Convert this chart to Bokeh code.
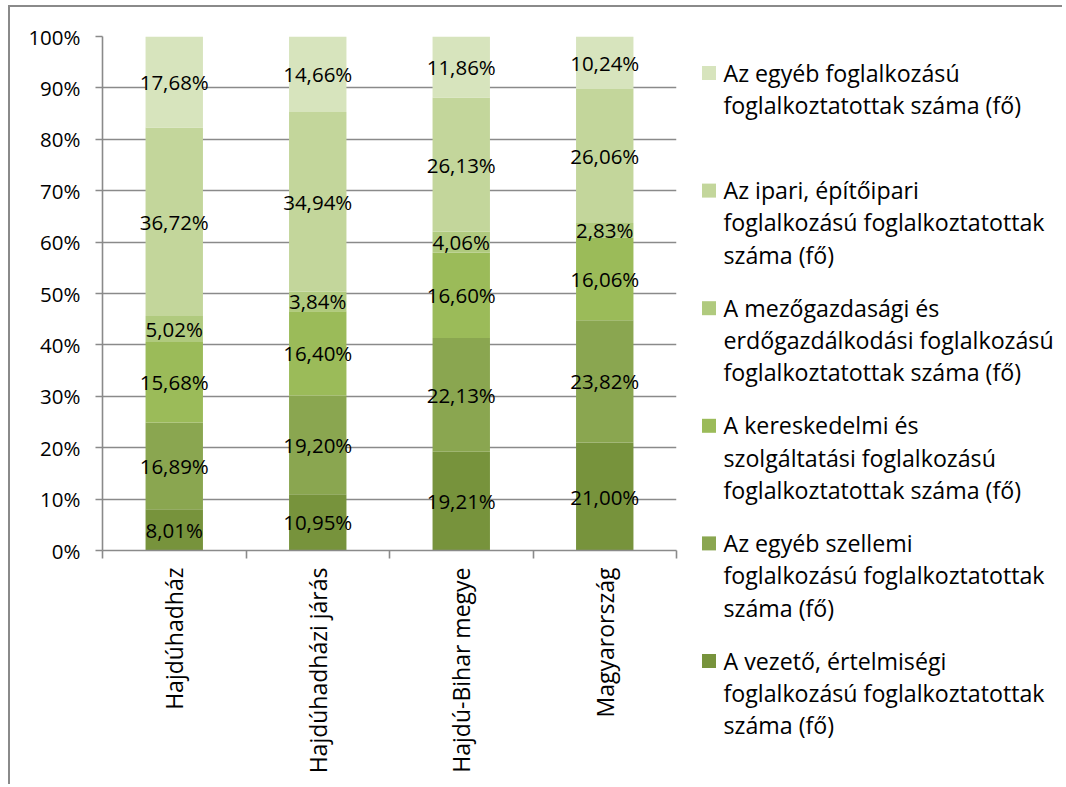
import math
from bokeh.plotting import figure
from bokeh.models import (Range1d, FixedTicker, LinearAxis, NumeralTickFormatter,
                          ColumnDataSource, CustomLabelingPolicy)
from bokeh.core.properties import value
from bokeh.embed import file_html
from bokeh.resources import INLINE

# ---------------- data ----------------
categories = ["Hajdúhadház", "Hajdúhadházi járás", "Hajdú-Bihar megye", "Magyarország"]

# series from bottom of stack to top (percent)
vezeto = [8.01, 10.95, 19.21, 21.00]
szellemi = [16.89, 19.20, 22.13, 23.82]
kereskedelmi = [15.68, 16.40, 16.60, 16.06]
mezogazdasagi = [5.02, 3.84, 4.06, 2.83]
ipari = [36.72, 34.94, 26.13, 26.06]
egyeb = [17.68, 14.66, 11.86, 10.24]

series_names = [
    "A vezető, értelmiségi\nfoglalkozású foglalkoztatottak\nszáma (fő)",
    "Az egyéb szellemi\nfoglalkozású foglalkoztatottak\nszáma (fő)",
    "A kereskedelmi és\nszolgáltatási foglalkozású\nfoglalkoztatottak száma (fő)",
    "A mezőgazdasági és\nerdőgazdálkodási foglalkozású\nfoglalkoztatottak száma (fő)",
    "Az ipari, építőipari\nfoglalkozású foglalkoztatottak\nszáma (fő)",
    "Az egyéb foglalkozású\nfoglalkoztatottak száma (fő)",
]
series_values = [vezeto, szellemi, kereskedelmi, mezogazdasagi, ipari, egyeb]
colors = ["#77933C", "#8AA650", "#9BBB59", "#B0CA7E", "#C3D69B", "#D7E4BD"]

y_ticks = [i / 10 for i in range(11)]

FONT = "Open Sans"
GRID = "#8a8a8a"
LW = 1.6

# ---------------- layout constants (pixels inside the figure) ----------------
W, H = 1054, 779
FL, FT, FW, FH = 92, 29, 574, 514   # frame left, top, width, height

p = figure(width=W, height=H, x_range=Range1d(0, len(categories)), y_range=Range1d(0, 1),
           x_axis_location=None, output_backend="svg", toolbar_location=None,
           min_border_left=FL, min_border_right=W - FL - FW, min_border_top=FT,
           min_border_bottom=H - FT - FH)
p.outline_line_color = None
p.background_fill_color = "white"
p.border_fill_color = "white"
p.xgrid.visible = False
p.ygrid.ticker = FixedTicker(ticks=y_ticks)
p.ygrid.grid_line_color = GRID
p.ygrid.grid_line_width = LW
p.styles = {"border-left": "2px solid #8a8a8a", "border-top": "2px solid #8a8a8a",
            "margin-left": "8px", "margin-top": "5px"}

# pixel-space ranges for the legend (outside the frame)
p.extra_x_ranges = {"px": Range1d(FL, FL + FW)}
p.extra_y_ranges = {"py": Range1d(FT + FH, FT)}

ya = p.yaxis[0]
ya.ticker = FixedTicker(ticks=y_ticks)
ya.formatter = NumeralTickFormatter(format="0%")
ya.axis_line_color = GRID
ya.axis_line_width = LW
ya.major_tick_line_color = GRID
ya.major_tick_line_width = LW
ya.major_tick_out = 7
ya.major_tick_in = 0
ya.minor_tick_line_color = None
ya.major_label_standoff = 15
ya.major_label_text_font = FONT
ya.major_label_text_font_size = "20.5px"
ya.major_label_text_color = "#000000"

xc = [i + 0.5 for i in range(len(categories))]

# axis with tick marks at category boundaries (no labels)
tick_axis = LinearAxis(ticker=FixedTicker(ticks=list(range(len(categories) + 1))),
                       major_label_policy=CustomLabelingPolicy(code="return []"))
tick_axis.axis_line_color = GRID
tick_axis.axis_line_width = LW
tick_axis.major_tick_line_color = GRID
tick_axis.major_tick_line_width = LW
tick_axis.major_tick_out = 8
tick_axis.major_tick_in = 0
tick_axis.minor_tick_line_color = None
tick_axis.major_label_text_font_size = "1px"
tick_axis.major_label_standoff = 0
p.add_layout(tick_axis, "below")

# axis with the category names
lab_axis = LinearAxis(ticker=FixedTicker(ticks=xc),
                      major_label_overrides={x: c for x, c in zip(xc, categories)})
lab_axis.axis_line_color = None
lab_axis.major_tick_line_color = None
lab_axis.minor_tick_line_color = None
lab_axis.major_tick_out = 0
lab_axis.major_tick_in = 0
lab_axis.major_label_orientation = math.pi / 2
lab_axis.major_label_standoff = 5
lab_axis.major_label_text_font = FONT
lab_axis.major_label_text_font_size = "23px"
lab_axis.major_label_text_color = "#000000"
p.add_layout(lab_axis, "below")

bottom = [0.0] * len(categories)
for name, vals, col in zip(series_names, series_values, colors):
    b = list(bottom)
    t = [bb + v / 100 for bb, v in zip(b, vals)]
    src = ColumnDataSource(dict(
        x=xc, bottom=b, top=t,
        mid=[(bb + tt) / 2 for bb, tt in zip(b, t)],
        label=[f"{v:.2f}%".replace(".", ",") for v in vals],
    ))
    p.vbar(x="x", width=0.4, bottom="bottom", top="top", source=src,
           fill_color=col, line_color=None)
    p.text(x="x", y="mid", text="label", source=src, text_align="center",
           text_baseline="middle", text_font=value(FONT), text_font_size="20.5px",
           text_color="#000000")
    bottom = t

# ---------------- legend (pixel coordinates inside the figure) ----------------
sx, sy, tx, ty, tt = [], [], [], [], []
sw_col = []
for i, (name, col) in enumerate(zip(reversed(series_names), reversed(colors))):
    base = 74 + i * 117.6
    sx.append(698.5)
    sy.append(base - 8.5)
    sw_col.append(col)
    for j, line in enumerate(name.split("\n")):
        tx.append(713)
        ty.append(base - 9 + j * 32.3)
        tt.append(line)

p.rect(x=sx, y=sy, width=14, height=14, fill_color=sw_col, line_color=None,
       x_range_name="px", y_range_name="py", level="overlay")
p.text(x=tx, y=ty, text=tt, text_align="left", text_baseline="alphabetic",
       text_font=value(FONT), text_font_size="23.2px", text_color="#000000",
       x_range_name="px", y_range_name="py", level="overlay")

open("out.html", "w").write(file_html(p, INLINE))
